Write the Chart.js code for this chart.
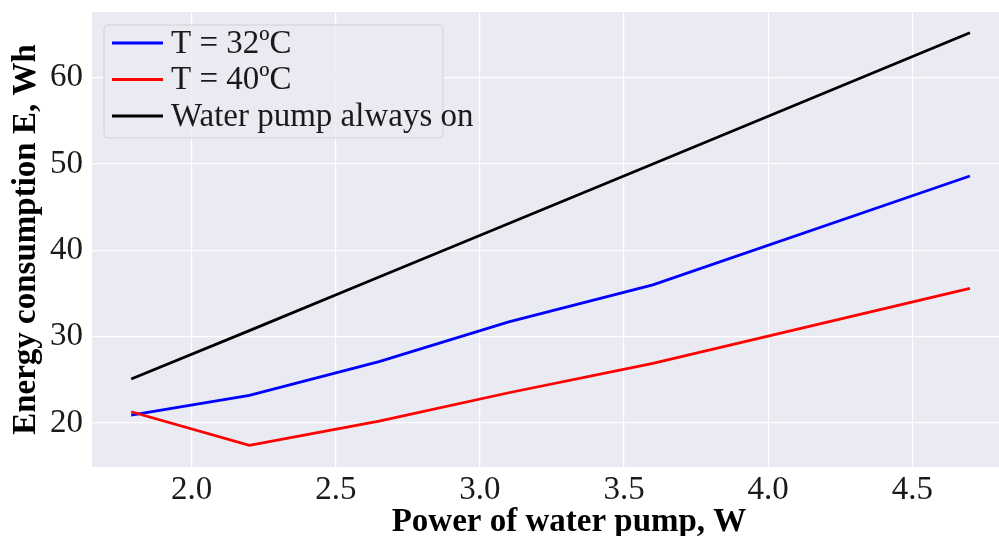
<!DOCTYPE html>
<html>
<head>
<meta charset="utf-8">
<script src="https://cdn.jsdelivr.net/npm/chart.js@4.4.1/dist/chart.umd.min.js"></script>
<style>
  html, body { margin: 0; padding: 0; background: #fff; overflow: hidden; }
  #wrap { width: 1046px; height: 536px; }
</style>
</head>
<body>
<div id="wrap"><canvas id="energy" width="1046" height="536"></canvas></div>
<script>
// values
const pumpPower = [1.79, 2.2, 2.65, 3.1, 3.6, 4.7];
const energyT32 = [20.9, 23.2, 27.1, 31.7, 36.0, 48.6];
const energyT40 = [21.3, 17.4, 20.2, 23.5, 26.9, 35.6];
const energyAlwaysOn = [25.1, 30.7, 36.9, 43.1, 50.0, 65.2];

const xTicks = [2.0, 2.5, 3.0, 3.5, 4.0, 4.5];
const yTicks = [20, 30, 40, 50, 60];

const seriesLabels = ['T = 32ºC', 'T = 40ºC', 'Water pump always on'];
const seriesColors = ['#0000ff', '#ff0000', '#000000'];

const serif = "'Liberation Serif', 'Times New Roman', serif";
const textColor = '#1a1a1a';

function points(ys) {
    return pumpPower.map((x, i) => ({ x: x, y: ys[i] }));
}

// seaborn-like grey plot background
const plotBackground = {
    id: 'plotBackground',
    beforeDraw(chart) {
        const { ctx, chartArea: a } = chart;
        ctx.save();
        ctx.fillStyle = '#eaeaf2';
        ctx.fillRect(a.left, a.top, a.right - a.left, a.bottom - a.top);
        ctx.restore();
    }
};

// legend box drawn inside the plot, top-left like matplotlib
const insideLegend = {
    id: 'insideLegend',
    afterDraw(chart) {
        const ctx = chart.ctx;
        const box = { x: 104, y: 25, w: 339, h: 113 };
        ctx.save();
        ctx.beginPath();
        ctx.roundRect(box.x, box.y, box.w, box.h, 4);
        ctx.fillStyle = 'rgba(234,234,242,0.8)';
        ctx.fill();
        ctx.strokeStyle = 'rgba(204,204,204,0.8)';
        ctx.lineWidth = 1;
        ctx.stroke();

        ctx.font = '33px ' + serif;
        ctx.textBaseline = 'middle';
        chart.data.datasets.forEach((ds, i) => {
            const y = 43 + i * 36.5;
            ctx.beginPath();
            ctx.moveTo(112, y);
            ctx.lineTo(163, y);
            ctx.strokeStyle = ds.borderColor;
            ctx.lineWidth = 3;
            ctx.stroke();
            ctx.fillStyle = textColor;
            ctx.fillText(ds.label, 171, y + 1);
        });
        ctx.restore();
    }
};

// no extra room for half tick labels at the ends of the axes
function noEndPadding(s) {
    s.paddingTop = 0;
    s.paddingBottom = 0;
    s.paddingLeft = 0;
    s.paddingRight = 0;
}

new Chart(document.getElementById('energy'), {
    type: 'line',
    data: {
        datasets: [
            { label: seriesLabels[0], data: points(energyT32), borderColor: seriesColors[0], order: 3 },
            { label: seriesLabels[1], data: points(energyT40), borderColor: seriesColors[1], order: 2 },
            { label: seriesLabels[2], data: points(energyAlwaysOn), borderColor: seriesColors[2], order: 1 }
        ]
    },
    options: {
        responsive: false,
        animation: false,
        events: [],
        layout: { padding: { top: 12, right: 0, bottom: 0, left: 0 } },
        elements: {
            line: { borderWidth: 2.8, tension: 0, fill: false },
            point: { radius: 0 }
        },
        plugins: {
            legend: { display: false },
            tooltip: { enabled: false }
        },
        scales: {
            x: {
                type: 'linear',
                min: 1.654,
                max: 4.964,
                afterBuildTicks: s => { s.ticks = xTicks.map(v => ({ value: v })); },
                afterFit: s => { s.height = 69; noEndPadding(s); },
                border: { display: false },
                grid: { color: '#ffffff', lineWidth: 1.2, drawTicks: false },
                ticks: {
                    padding: 4,
                    color: textColor,
                    font: { family: serif, size: 33 },
                    callback: v => Number(v).toFixed(1)
                },
                title: {
                    display: true,
                    text: 'Power of water pump, W',
                    color: '#000',
                    font: { family: serif, size: 33, weight: 'bold', lineHeight: 1 },
                    padding: { top: 0, bottom: -3 }
                }
            },
            y: {
                min: 14.9,
                max: 67.6,
                afterBuildTicks: s => { s.ticks = yTicks.map(v => ({ value: v })); },
                afterFit: s => { s.width = 92; noEndPadding(s); },
                border: { display: false },
                grid: { color: '#ffffff', lineWidth: 1.2, drawTicks: false },
                ticks: {
                    padding: 9,
                    color: textColor,
                    font: { family: serif, size: 33 },
                    callback: v => String(v)
                },
                title: {
                    display: true,
                    text: 'Energy consumption E, Wh',
                    color: '#000',
                    font: { family: serif, size: 33, weight: 'bold', lineHeight: 1 },
                    padding: { top: 10, bottom: 0 }
                }
            }
        }
    },
    plugins: [plotBackground, insideLegend]
});
</script>
</body>
</html>
